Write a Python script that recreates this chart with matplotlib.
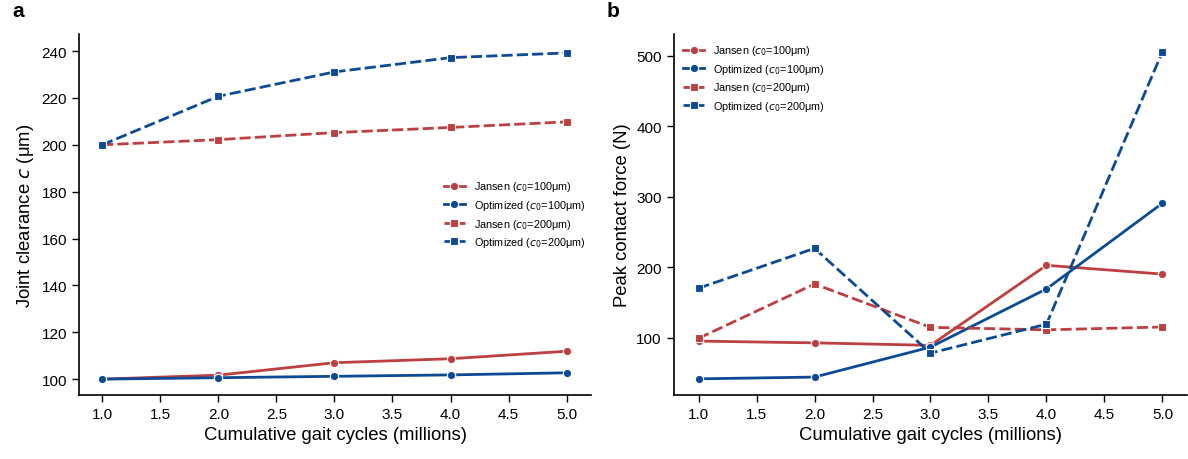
import matplotlib

matplotlib.use("Agg")
import matplotlib.pyplot as plt

plt.rcParams["font.family"] = ["Liberation Sans", "DejaVu Sans"]

cycles = [1.0, 2.0, 3.0, 4.0, 5.0]

# joint clearance (um)
clr_jansen_100 = [100.0, 101.7, 107.0, 108.7, 111.9]
clr_opt_100 = [100.0, 100.6, 101.2, 101.8, 102.7]
clr_jansen_200 = [200.0, 202.2, 205.2, 207.4, 209.8]
clr_opt_200 = [200.0, 220.7, 231.1, 237.2, 239.2]

# peak contact force (N)
frc_jansen_100 = [95.5, 93.0, 89.5, 203.0, 190.5]
frc_opt_100 = [42.0, 44.5, 87.0, 169.5, 291.0]
frc_jansen_200 = [99.5, 176.5, 115.0, 111.5, 115.5]
frc_opt_200 = [170.5, 227.0, 78.5, 119.5, 506.0]

labels = [
    "Jansen ($c_0$=100μm)",
    "Optimized ($c_0$=100μm)",
    "Jansen ($c_0$=200μm)",
    "Optimized ($c_0$=200μm)",
]

RED = "#BE3F3F"
BLUE = "#0C4A96"
styles = [
    dict(color=RED, marker="o", ls="-"),
    dict(color=BLUE, marker="o", ls="-"),
    dict(color=RED, marker="s", ls=(0, (4, 1.5))),
    dict(color=BLUE, marker="s", ls=(0, (4, 1.5))),
]


def draw(ax, series):
    for ys, lab, st in zip(series, labels, styles):
        ax.plot(cycles, ys, color=st["color"], ls=st["ls"], marker=st["marker"],
                lw=2, ms=6, mec="white", mew=0.8, label=lab)
    ax.set_xticks([1.0, 1.5, 2.0, 2.5, 3.0, 3.5, 4.0, 4.5, 5.0])
    ax.set_xlabel("Cumulative gait cycles (millions)", fontsize=13.3)
    ax.tick_params(labelsize=11, length=5, width=1)
    for s in ("top", "right"):
        ax.spines[s].set_visible(False)
    for s in ("left", "bottom"):
        ax.spines[s].set_linewidth(1.2)


def add_legend(ax, anchor):
    ax.legend(loc="upper left", bbox_to_anchor=anchor, borderaxespad=0,
              fontsize=7.8, frameon=False, handlelength=1.95, labelspacing=0.42)


fig = plt.figure(figsize=(11.88, 4.6), dpi=100)
ax1 = fig.add_axes([0.0665, 0.139, 0.431, 0.785])
ax2 = fig.add_axes([0.567, 0.139, 0.432, 0.785])

draw(ax1, [clr_jansen_100, clr_opt_100, clr_jansen_200, clr_opt_200])
ax1.set_ylabel("Joint clearance $c$ (μm)", fontsize=13.3)
ax1.set_xlim(0.80, 5.21)
ax1.set_ylim(93.2, 247.3)
ax1.set_yticks(range(100, 241, 20))
add_legend(ax1, (0.704, 0.609))

draw(ax2, [frc_jansen_100, frc_opt_100, frc_jansen_200, frc_opt_200])
ax2.set_ylabel("Peak contact force (N)", fontsize=13.3)
ax2.set_xlim(0.785, 5.21)
ax2.set_ylim(19, 531)
ax2.set_yticks(range(100, 501, 100))
add_legend(ax2, (0.010, 0.986))

fig.text(0.010, 0.974, "a", fontsize=15, fontweight="bold", va="center")
fig.text(0.511, 0.974, "b", fontsize=15, fontweight="bold", va="center")

fig.savefig("out.png", dpi=100)
